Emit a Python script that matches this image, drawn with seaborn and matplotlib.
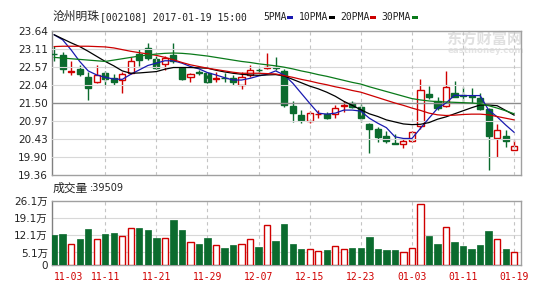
import matplotlib
matplotlib.use("Agg")
import matplotlib.pyplot as plt
import seaborn as sns
import numpy as np
import pandas as pd
from matplotlib.patches import Rectangle

# ---------------- data ----------------
dates = ["11-03", "11-11", "11-21", "11-29", "12-07", "12-15", "12-23", "01-03", "01-11", "01-19"]
date_pos = [0, 6, 12, 18, 24, 30, 36, 42, 48, 54]

open_ = [22.96, 22.91, 22.42, 22.50, 22.28, 22.13, 22.38, 22.23, 22.18, 22.38,
         22.95, 23.14, 22.80, 22.66, 22.93, 22.53, 22.26, 22.42, 22.38, 22.22,
         22.25, 22.24, 22.04, 22.33, 22.49, 22.53, 22.58, 22.46, 21.41, 21.14,
         20.98, 21.16, 21.18, 21.17, 21.41, 21.50, 21.37, 20.88, 20.73, 20.52,
         20.31, 20.30, 20.37, 20.82, 21.77, 21.56, 21.42, 21.79, 21.73, 21.70,
         21.66, 21.33, 20.47, 20.52, 20.12]
high = [23.20, 23.01, 22.73, 22.62, 22.43, 22.61, 22.45, 22.36, 22.43, 22.85,
        23.10, 23.27, 22.88, 22.88, 23.27, 22.58, 22.40, 22.49, 22.43, 22.43,
        22.38, 22.33, 22.43, 22.63, 22.53, 22.98, 22.86, 22.50, 21.56, 21.30,
        21.26, 21.30, 21.22, 21.44, 21.55, 21.56, 21.48, 20.90, 20.80, 20.67,
        20.57, 20.45, 20.67, 22.22, 22.01, 21.69, 22.45, 22.15, 21.96, 21.94,
        21.79, 21.36, 20.87, 20.70, 20.40]
low = [22.73, 22.40, 22.33, 22.31, 21.59, 22.10, 22.02, 22.02, 21.80, 22.36,
       22.60, 22.76, 22.52, 22.48, 22.68, 22.18, 22.12, 22.33, 22.10, 22.12,
       22.12, 22.02, 21.92, 22.26, 22.38, 22.52, 22.48, 21.38, 20.95, 20.90,
       20.90, 21.07, 21.02, 21.05, 21.23, 21.34, 20.94, 20.03, 20.35, 20.33,
       20.30, 20.17, 20.34, 20.72, 21.62, 21.30, 21.39, 21.67, 21.49, 21.49,
       21.30, 19.51, 19.91, 20.20, 20.12]
close = [22.94, 22.50, 22.45, 22.37, 21.94, 22.33, 22.22, 22.11, 22.35, 22.75,
         22.76, 22.83, 22.53, 22.83, 22.73, 22.21, 22.37, 22.40, 22.13, 22.24,
         22.23, 22.12, 22.28, 22.48, 22.47, 22.58, 22.53, 21.44, 21.21, 21.00,
         21.21, 21.18, 21.05, 21.34, 21.43, 21.39, 21.06, 20.74, 20.50, 20.37,
         20.30, 20.37, 20.65, 21.89, 21.68, 21.36, 21.96, 21.69, 21.71, 21.69,
         21.33, 20.53, 20.69, 20.39, 20.23]

ma5 = [23.52, 23.37, 23.07, 22.73, 22.45, 22.33, 22.26, 22.21, 22.20, 22.35,
       22.48, 22.61, 22.68, 22.75, 22.75, 22.68, 22.58, 22.51, 22.40, 22.33,
       22.25, 22.18, 22.18, 22.23, 22.30, 22.35, 22.45, 22.33, 22.09, 21.79,
       21.49, 21.20, 21.17, 21.20, 21.29, 21.29, 21.26, 21.05, 20.90, 20.77,
       20.50, 20.45, 20.45, 20.75, 21.05, 21.34, 21.50, 21.73, 21.72, 21.72,
       21.72, 21.29, 21.09, 20.85, 20.63]
ma10 = [23.52, 23.40, 23.28, 23.17, 23.03, 22.88, 22.73, 22.60, 22.45, 22.38,
        22.39, 22.41, 22.43, 22.50, 22.55, 22.55, 22.55, 22.54, 22.53, 22.47,
        22.42, 22.38, 22.35, 22.33, 22.32, 22.33, 22.34, 22.30, 22.20, 22.10,
        22.00, 21.92, 21.82, 21.70, 21.55, 21.43, 21.30, 21.18, 21.10, 21.00,
        20.94, 20.88, 20.86, 20.87, 20.92, 21.02, 21.09, 21.18, 21.27, 21.36,
        21.44, 21.44, 21.42, 21.28, 21.14]
ma20 = [23.17, 23.18, 23.18, 23.18, 23.18, 23.17, 23.16, 23.13, 23.08, 23.03,
        22.99, 22.95, 22.91, 22.85, 22.78, 22.70, 22.63, 22.58, 22.53, 22.49,
        22.45, 22.41, 22.38, 22.38, 22.38, 22.37, 22.36, 22.31, 22.26, 22.20,
        22.15, 22.09, 22.04, 21.98, 21.93, 21.87, 21.82, 21.74, 21.66, 21.58,
        21.50, 21.43, 21.35, 21.28, 21.20, 21.15, 21.13, 21.14, 21.16, 21.17,
        21.17, 21.15, 21.10, 21.05, 21.00]
ma30 = [22.85, 22.83, 22.81, 22.79, 22.77, 22.75, 22.73, 22.77, 22.81, 22.85,
        22.89, 22.92, 22.95, 22.97, 22.98, 22.97, 22.95, 22.92, 22.89, 22.85,
        22.81, 22.77, 22.73, 22.70, 22.66, 22.63, 22.60, 22.56, 22.51, 22.45,
        22.40, 22.34, 22.29, 22.23, 22.17, 22.11, 22.06, 21.98, 21.91, 21.84,
        21.77, 21.70, 21.63, 21.59, 21.56, 21.54, 21.53, 21.52, 21.51, 21.50,
        21.48, 21.42, 21.35, 21.27, 21.18]

volume = [12.1, 12.8, 8.7, 10.7, 14.5, 10.7, 12.8, 13.2, 12.0, 15.2,
          14.9, 14.1, 11.2, 11.1, 18.2, 14.1, 9.4, 8.6, 11.1, 8.2,
          7.1, 8.2, 8.7, 10.6, 7.5, 16.5, 9.7, 16.6, 8.7, 6.6,
          6.5, 5.8, 6.1, 7.9, 6.6, 6.9, 6.8, 11.5, 6.7, 6.2,
          6.2, 5.1, 6.9, 24.8, 12.0, 8.7, 15.6, 9.3, 7.9, 6.5,
          8.3, 13.8, 10.4, 6.7, 5.4]

price_ticks = [19.36, 19.90, 20.43, 20.97, 21.50, 22.04, 22.57, 23.11, 23.64]
vol_ticks = [0, 5.1, 12.1, 19.1, 26.1]
vol_tick_labels = ["0", "5.1万", "12.1万", "19.1万", "26.1万"]

# ---------------- style ----------------
RED = "#d00000"
GREEN = "#0b6b2e"
BLUE = "#1a1ab0"
BLACK = "#000000"
MA_RED = "#cc0000"
MA_GREEN = "#0a7a1a"
GRID = "#d8d8d8"
SPINE = "#a0a0a0"

sns.set_theme(style="white")
plt.rcParams["font.family"] = ["DejaVu Sans", "Noto Sans CJK SC"]

W, H = 541, 301
fig = plt.figure(figsize=(W / 100, H / 100), dpi=100)
fig.patch.set_facecolor("white")

def fx(px):
    return px / W

def fy(py):
    return 1 - py / H

axp = fig.add_axes([fx(52), fy(175.3), fx(469), 144.6 / H])
axv = fig.add_axes([fx(52), fy(265), fx(469), 64 / H])
axp.set_zorder(2)
axp.patch.set_alpha(0)

n = len(close)
idx = np.arange(n)
o = np.array(open_)
c = np.array(close)
up = c > o
cols = [RED if u else GREEN for u in up]

xlim = (-0.25, 54.8)

# ---------------- price panel ----------------
for t in price_ticks[1:-1]:
    axp.axhline(t, color="#8c8c8c" if abs(t - 21.50) < 1e-6 else GRID,
                lw=1.0 if abs(t - 21.50) < 1e-6 else 0.8, zorder=0)
for p in date_pos[1:]:
    axp.axvline(p, color="#c4c4c4", lw=0.8, ls=(0, (3, 3)), zorder=0)

# watermark (behind the price axes)
fig.text(fx(446), fy(38.5), "东方财富网", family=["Noto Sans CJK SC"], fontsize=11,
         fontweight="bold", color="#e0e0e0", va="center", ha="left", zorder=0)
fig.text(fx(448), fy(50.5), "eastmoney.com", family=["DejaVu Sans"], fontsize=6.2,
         fontweight="bold", color="#e4e4e4", va="center", ha="left", zorder=0)

axp.vlines(idx, low, high, colors=cols, lw=1, zorder=2)
heights = np.maximum(np.abs(c - o), 0.012)
bottoms = np.minimum(o, c)
axp.bar(idx, heights, bottom=bottoms, width=0.72,
        facecolor=["white" if u else GREEN for u in up],
        edgecolor=cols, linewidth=1, zorder=3)

madf = pd.DataFrame({
    "idx": np.concatenate([idx] * 4),
    "val": np.concatenate([ma5, ma10, ma20, ma30]),
    "ma": ["5"] * n + ["10"] * n + ["20"] * n + ["30"] * n,
})
sns.lineplot(data=madf, x="idx", y="val", hue="ma",
             palette={"5": BLUE, "10": BLACK, "20": MA_RED, "30": MA_GREEN},
             legend=False, linewidth=0.9, errorbar=None, ax=axp)
for ln in axp.lines:
    ln.set_zorder(4)

axp.set_xlim(*xlim)
axp.set_ylim(19.36, 23.64)
axp.set_yticks(price_ticks)
axp.set_yticklabels([f"{t:.2f}" for t in price_ticks])
axp.set_xticks([])
axp.set_xlabel("")
axp.set_ylabel("")
axp.tick_params(axis="y", length=0, pad=3, labelsize=7.5, labelcolor="#222222")

# ---------------- volume panel ----------------
for t in vol_ticks[1:-1]:
    axv.axhline(t, color=GRID, lw=0.8, zorder=0)
for p in date_pos[1:]:
    axv.axvline(p, color="#c4c4c4", lw=0.8, ls=(0, (3, 3)), zorder=0)

vdf = pd.DataFrame({"idx": idx, "vol": volume, "dir": np.where(up, "up", "down")})
sns.barplot(data=vdf, x="idx", y="vol", hue="dir", palette={"up": RED, "down": GREEN},
            native_scale=True, dodge=False, width=0.74, saturation=1, legend=False,
            errorbar=None, ax=axv)
red_rgb = np.array(matplotlib.colors.to_rgb(RED))
for patch in axv.patches:
    fc = np.array(patch.get_facecolor()[:3])
    if np.allclose(fc, red_rgb, atol=0.02):
        patch.set_facecolor("white")
        patch.set_edgecolor(RED)
        patch.set_linewidth(1)
    else:
        patch.set_edgecolor(GREEN)
        patch.set_linewidth(0.5)
    patch.set_zorder(3)

axv.set_xlim(*xlim)
axv.set_ylim(0, 26.1)
axv.set_yticks(vol_ticks)
axv.set_yticklabels(vol_tick_labels)
axv.set_xticks(date_pos)
axv.set_xticklabels(dates)
axv.set_xlabel("")
axv.set_ylabel("")
axv.tick_params(axis="y", length=0, pad=3, labelsize=7.5, labelcolor="#222222")
axv.tick_params(axis="x", length=0, pad=5, labelsize=7, labelcolor=RED)
for lab in axv.get_xticklabels():
    lab.set_family("DejaVu Sans Mono")
xl = axv.get_xticklabels()
xl[0].set_horizontalalignment("left")

for ax in (axp, axv):
    for side, sp in ax.spines.items():
        sp.set_visible(True)
        sp.set_color(SPINE)
        sp.set_linewidth(1)
    ax.spines["left"].set_color("#808080")
axv.set_facecolor("white")

# ---------------- header texts ----------------
fig.text(fx(52), fy(16.7), "沧州明珠", family=["Noto Sans CJK SC"], fontsize=8.5,
         color="#222222", va="center", ha="left")
fig.text(fx(100), fy(16.7), "[002108] 2017-01-19 15:00", family=["DejaVu Sans Mono"],
         fontsize=7, color="#222222", va="center", ha="left")

legend_items = [("5PMA", 263.3, 287.3, BLUE), ("10PMA", 299, 329, BLACK),
                ("20PMA", 340, 370, MA_RED), ("30PMA", 381, 411.7, MA_GREEN)]
for lab, tx, bx, colr in legend_items:
    fig.text(fx(tx), fy(16.7), lab, family=["DejaVu Sans Mono"], fontsize=7,
             color="#222222", va="center", ha="left")
    fig.patches.append(Rectangle((fx(bx), fy(19.3)), fx(6), 2.8 / H,
                                 transform=fig.transFigure, facecolor=colr,
                                 edgecolor="none"))

fig.text(fx(53), fy(188), "成交量", family=["Noto Sans CJK SC"], fontsize=8.5,
         color="#222222", va="center", ha="left")
fig.text(fx(90), fy(188), ":39509", family=["DejaVu Sans"], fontsize=7,
         color="#222222", va="center", ha="left")

fig.savefig("out.png", dpi=100, facecolor="white")
